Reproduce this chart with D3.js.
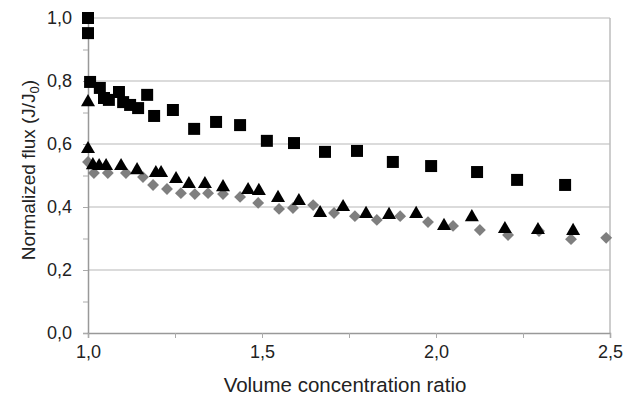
<!DOCTYPE html>
<html>
<head>
<meta charset="utf-8">
<script src="https://cdn.jsdelivr.net/npm/d3@7"></script>
<style>
  body { margin: 0; background: #fff; }
  text { font-family: "Liberation Sans", Arial, sans-serif; fill: #222; }
</style>
</head>
<body>
<svg id="chart"></svg>
<script>
// series: x = volume concentration ratio, y = J/J0
var squareX = [1.0, 1.0, 1.006, 1.034, 1.046, 1.06, 1.089, 1.101, 1.121, 1.144, 1.17, 1.19, 1.244, 1.305, 1.368, 1.437, 1.514, 1.592, 1.681, 1.773, 1.876, 1.986, 2.118, 2.233, 2.371];
var squareY = [1.0, 0.952, 0.797, 0.778, 0.746, 0.74, 0.765, 0.733, 0.724, 0.714, 0.756, 0.689, 0.708, 0.648, 0.67, 0.66, 0.61, 0.603, 0.575, 0.578, 0.543, 0.53, 0.511, 0.486, 0.47];

var triangleX = [1.0, 1.0, 1.014, 1.032, 1.052, 1.095, 1.141, 1.195, 1.21, 1.253, 1.29, 1.336, 1.388, 1.46, 1.491, 1.546, 1.606, 1.667, 1.733, 1.799, 1.865, 1.943, 2.023, 2.103, 2.198, 2.293, 2.394];
var triangleY = [0.733, 0.584, 0.533, 0.53, 0.53, 0.53, 0.517, 0.508, 0.508, 0.489, 0.473, 0.473, 0.463, 0.454, 0.451, 0.429, 0.419, 0.381, 0.4, 0.378, 0.375, 0.378, 0.34, 0.368, 0.33, 0.327, 0.324];

var diamondX = [1.0, 1.017, 1.057, 1.109, 1.158, 1.187, 1.227, 1.267, 1.307, 1.345, 1.388, 1.437, 1.489, 1.549, 1.589, 1.647, 1.707, 1.767, 1.83, 1.897, 1.977, 2.049, 2.126, 2.207, 2.296, 2.388, 2.489];
var diamondY = [0.543, 0.508, 0.508, 0.508, 0.495, 0.47, 0.457, 0.444, 0.441, 0.444, 0.441, 0.432, 0.413, 0.394, 0.397, 0.406, 0.381, 0.371, 0.359, 0.371, 0.352, 0.34, 0.327, 0.311, 0.324, 0.298, 0.302];

var xTicks = [1.0, 1.5, 2.0, 2.5];
var yTicks = [0.0, 0.2, 0.4, 0.6, 0.8, 1.0];

var width = 626, height = 404;
var margin = {top: 18, right: 16, bottom: 71, left: 88};
var font = '"Liberation Sans", Arial, sans-serif';

var svg = d3.select('#chart')
    .attr('width', width)
    .attr('height', height);

var x = d3.scaleLinear().domain([1.0, 2.5]).range([margin.left, width - margin.right]);
var y = d3.scaleLinear().domain([0, 1.0]).range([height - margin.bottom, margin.top]);

var fmt = function(d) { return d3.format('.1f')(d).replace('.', ','); };

// gridlines
svg.append('g')
  .selectAll('line')
  .data(yTicks.slice(1))
  .enter().append('line')
  .attr('x1', x(1.0)).attr('x2', x(2.5))
  .attr('y1', function(d) { return y(d); })
  .attr('y2', function(d) { return y(d); })
  .attr('stroke', '#cfcfcf')
  .attr('stroke-width', 1.5);

// right border
svg.append('line')
  .attr('x1', x(2.5)).attr('x2', x(2.5))
  .attr('y1', y(1.0)).attr('y2', y(0))
  .attr('stroke', '#bdbdbd')
  .attr('stroke-width', 1.5);

// y axis: minor ticks then major labels
var yAxis = svg.append('g')
  .attr('transform', 'translate(' + x(1.0) + ',0)')
  .call(d3.axisLeft(y).tickValues(d3.range(0, 1.01, 0.1)).tickSize(5).tickFormat(''));
yAxis.select('.domain').attr('stroke', '#999').attr('stroke-width', 1.5);
yAxis.selectAll('.tick line').attr('stroke', '#aaa');

var yLab = svg.append('g')
  .attr('transform', 'translate(' + x(1.0) + ',0)')
  .call(d3.axisLeft(y).tickValues(yTicks).tickSize(0).tickPadding(16).tickFormat(fmt));
yLab.select('.domain').remove();
yLab.selectAll('text').attr('font-size', 18).attr('font-family', font).attr('fill', '#222');

// x axis
var xAxis = svg.append('g')
  .attr('transform', 'translate(0,' + y(0) + ')')
  .call(d3.axisBottom(x).tickValues(d3.range(1.0, 2.51, 0.25)).tickSize(5).tickFormat(''));
xAxis.select('.domain').attr('stroke', '#999').attr('stroke-width', 1.5);
xAxis.selectAll('.tick line').attr('stroke', '#aaa');

var xLab = svg.append('g')
  .attr('transform', 'translate(0,' + y(0) + ')')
  .call(d3.axisBottom(x).tickValues(xTicks).tickSize(0).tickPadding(12).tickFormat(fmt));
xLab.select('.domain').remove();
xLab.selectAll('text').attr('font-size', 18).attr('font-family', font).attr('fill', '#222');

// axis titles
svg.append('text')
  .attr('x', 345).attr('y', 392)
  .attr('text-anchor', 'middle')
  .attr('font-size', 20.5)
  .text('Volume concentration ratio');

var yt = svg.append('text')
  .attr('transform', 'translate(35,' + 170 + ') rotate(-90)')
  .attr('text-anchor', 'middle')
  .attr('font-size', 19);
yt.append('tspan').text('Normalized flux (J/J');
yt.append('tspan').attr('font-size', 13).attr('dy', 4).text('0');
yt.append('tspan').attr('dy', -4).text(')');

// markers
function plot(xs, ys, type, size, color) {
  var sym = d3.symbol().type(type).size(size);
  svg.append('g')
    .selectAll('path')
    .data(d3.zip(xs, ys))
    .enter().append('path')
    .attr('d', sym)
    .attr('transform', function(d) { return 'translate(' + x(d[0]) + ',' + y(d[1]) + ')'; })
    .attr('fill', color);
}

plot(diamondX, diamondY, d3.symbolDiamond2, 90, '#7f7f7f');
plot(triangleX, triangleY, d3.symbolTriangle, 85, '#000');
plot(squareX, squareY, d3.symbolSquare, 144, '#000');
</script>
</body>
</html>
